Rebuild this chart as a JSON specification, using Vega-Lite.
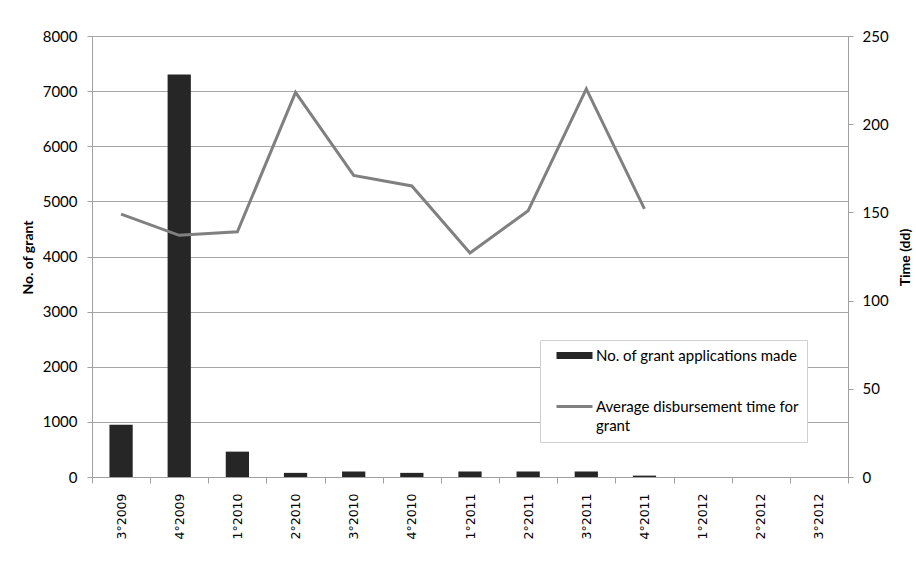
{
  "$schema": "https://vega.github.io/schema/vega-lite/v6.json",
  "width": 756,
  "height": 441,
  "autosize": {"type": "none"},
  "padding": {"left": 92, "top": 36, "right": 68, "bottom": 106},
  "background": "white",
  "config": {
    "view": {"stroke": null},
    "axis": {
      "domainColor": "#a0a0a0",
      "tickColor": "#a0a0a0",
      "gridColor": "#a6a6a6",
      "labelColor": "black",
      "titleColor": "black"
    }
  },
  "data": {
    "values": [
      {"quarter": "3°2009", "grants": 950, "days": 149},
      {"quarter": "4°2009", "grants": 7300, "days": 137},
      {"quarter": "1°2010", "grants": 460, "days": 139},
      {"quarter": "2°2010", "grants": 75, "days": 218},
      {"quarter": "3°2010", "grants": 100, "days": 171},
      {"quarter": "4°2010", "grants": 75, "days": 165},
      {"quarter": "1°2011", "grants": 100, "days": 127},
      {"quarter": "2°2011", "grants": 100, "days": 151},
      {"quarter": "3°2011", "grants": 100, "days": 220},
      {"quarter": "4°2011", "grants": 25, "days": 152},
      {"quarter": "1°2012", "grants": 0, "days": null},
      {"quarter": "2°2012", "grants": 0, "days": null},
      {"quarter": "3°2012", "grants": 0, "days": null}
    ]
  },
  "encoding": {
    "x": {
      "field": "quarter",
      "type": "nominal",
      "sort": null,
      "scale": {"paddingInner": 0, "paddingOuter": 0},
      "axis": {
        "title": null,
        "labelAngle": -90,
        "labelAlign": "right",
        "labelBaseline": "middle",
        "labelFont": "DejaVu Sans",
        "labelFontSize": 12.5,
        "labelPadding": 10,
        "tickBand": "extent",
        "tickSize": 6,
        "domainColor": "#a0a0a0"
      }
    }
  },
  "layer": [
    {
      "mark": {"type": "bar", "width": {"band": 0.4}},
      "encoding": {
        "y": {
          "field": "grants",
          "type": "quantitative",
          "scale": {"domain": [0, 8000]},
          "axis": {
            "title": "No. of grant",
            "titleFont": "Lato",
            "titleFontSize": 14,
            "titleFontWeight": "bold",
            "titleAngle": 270,
            "titleAlign": "center",
            "titleBaseline": "middle",
            "titleX": -64,
            "titleY": 221,
            "values": [0, 1000, 2000, 3000, 4000, 5000, 6000, 7000, 8000],
            "format": "d",
            "labelFont": "Lato",
            "labelFontSize": 15,
            "labelPadding": 10,
            "tickSize": 5,
            "grid": true
          }
        },
        "color": {
          "datum": "No. of grant applications made",
          "scale": {
            "domain": ["No. of grant applications made", "Average disbursement time for grant"],
            "range": ["#262626", "#808080"]
          },
          "legend": {
            "orient": "none",
            "legendX": 448,
            "legendY": 304,
            "title": null,
            "fillColor": "white",
            "strokeColor": "#d0d0d0",
            "padding": 8,
            "labelFont": "Lato",
            "labelFontSize": 15,
            "labelColor": "black",
            "labelLimit": 400,
            "symbolSize": 324,
            "symbolOffset": 19,
            "rowPadding": 35,
            "labelOffset": 14,
            "labelExpr": "datum.label == 'Average disbursement time for grant' ? ['Average disbursement time for\u00a0\u00a0\u00a0\u00a0\u00a0\u00a0\u00a0\u00a0\u00a0', 'grant'] : datum.label",
            "encode": {
              "symbols": {
                "update": {
                  "shape": {"signal": "datum.value == 'No. of grant applications made' ? 'M-2,-0.4H2V0.4H-2Z' : 'M-2,0H2'"},
                  "fill": {"signal": "datum.value == 'No. of grant applications made' ? '#262626' : 'transparent'"},
                  "stroke": {"signal": "datum.value == 'No. of grant applications made' ? '#262626' : '#808080'"},
                  "strokeWidth": {"signal": "datum.value == 'No. of grant applications made' ? 0 : 3"},
                  "opacity": {"value": 1}
                }
              },
              "labels": {
                "update": {
                  "lineHeight": {"value": 19}
                }
              }
            }
          }
        }
      }
    },
    {
      "mark": {"type": "line", "strokeWidth": 3},
      "encoding": {
        "y": {
          "field": "days",
          "type": "quantitative",
          "scale": {"domain": [0, 250]},
          "axis": {
            "orient": "right",
            "title": "Time (dd)",
            "titleFont": "Lato",
            "titleFontSize": 14,
            "titleFontWeight": "bold",
            "titleAngle": 270,
            "titleAlign": "center",
            "titleBaseline": "middle",
            "titleX": 57,
            "titleY": 221,
            "values": [0, 50, 100, 150, 200, 250],
            "labelFont": "Lato",
            "labelFontSize": 15,
            "labelPadding": 9,
            "tickSize": 5,
            "grid": false
          }
        },
        "color": {"datum": "Average disbursement time for grant"}
      }
    }
  ],
  "resolve": {"scale": {"y": "independent"}}
}
